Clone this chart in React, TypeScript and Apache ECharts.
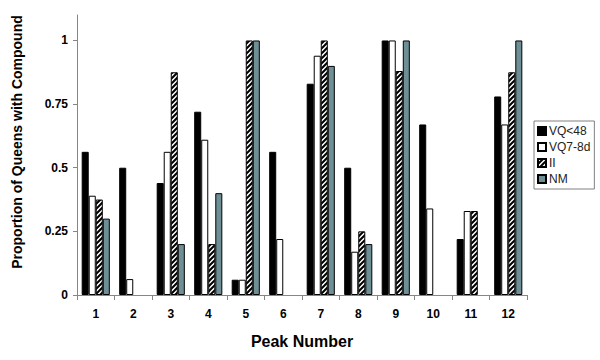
import React, { useEffect, useRef } from "react";
import * as echarts from "echarts";

const categories = ["1", "2", "3", "4", "5", "6", "7", "8", "9", "10", "11", "12"];
const seriesNames = ["VQ<48", "VQ7-8d", "II", "NM"];
const vq48 = [0.5625, 0.5, 0.44, 0.72, 0.06, 0.5625, 0.83, 0.5, 1, 0.67, 0.22, 0.78];
const vq78 = [0.39, 0.0625, 0.5625, 0.61, 0.06, 0.22, 0.94, 0.17, 1, 0.34, 0.33, 0.67];
const ii = [0.375, 0, 0.875, 0.2, 1, 0, 1, 0.25, 0.88, 0, 0.33, 0.875];
const nm = [0.3, 0, 0.2, 0.4, 1, 0, 0.9, 0.2, 1, 0, 0, 1];
const yTicks = [0, 0.25, 0.5, 0.75, 1];

const FONT = '"Liberation Sans", Arial, sans-serif';

function makeHatch(): HTMLCanvasElement {
  const c = document.createElement("canvas");
  const s = 5;
  c.width = s;
  c.height = s;
  const ctx = c.getContext("2d")!;
  ctx.fillStyle = "#fff";
  ctx.fillRect(0, 0, s, s);
  ctx.strokeStyle = "#000";
  ctx.lineWidth = 2;
  ctx.lineCap = "square";
  for (const o of [-s, 0, s]) {
    ctx.beginPath();
    ctx.moveTo(o - 1, s + 1);
    ctx.lineTo(o + s + 1, -1);
    ctx.stroke();
  }
  return c;
}

export default function App() {
  const ref = useRef<HTMLDivElement>(null);
  useEffect(() => {
    if (!ref.current) return;
    const chart = echarts.init(ref.current, undefined, { renderer: "svg" });
    const border = { borderColor: "#000", borderWidth: 1 };
    const hatchFill = { image: makeHatch(), repeat: "repeat" };
    const datasets = [vq48, vq78, ii, nm];
    const styles = [
      { color: "#000", ...border },
      { color: "#fff", ...border },
      { color: hatchFill, ...border },
      { color: "#6f8f97", ...border },
    ];
    chart.setOption({
      animation: false,
      backgroundColor: "#fff",
      textStyle: { fontFamily: FONT },
      grid: { left: 77, right: 73, top: 15, bottom: 65 },
      legend: {
        orient: "vertical",
        left: 534,
        top: 121,
        itemWidth: 8,
        itemHeight: 8,
        itemGap: 4,
        borderColor: "#808080",
        borderWidth: 1,
        borderRadius: 0,
        padding: [4, 4, 4, 3],
        icon: "rect",
        textStyle: { fontSize: 12, color: "#222", fontFamily: FONT, padding: [0, 0, 0, -2] },
        data: seriesNames,
      },
      graphic: [
        {
          type: "text",
          x: 17,
          y: 142,
          rotation: Math.PI / 2,
          style: {
            text: "Proportion of Queens with Compound",
            font: `bold 14px ${FONT}`,
            fill: "#000",
            align: "center",
            verticalAlign: "middle",
          },
        },
      ],
      xAxis: {
        type: "category",
        data: categories,
        name: "Peak Number",
        nameLocation: "middle",
        nameGap: 38,
        nameTextStyle: { fontSize: 16, fontWeight: "bold", color: "#000", fontFamily: FONT },
        axisLine: { lineStyle: { color: "#868686", width: 1 } },
        axisTick: { show: true, length: 5, lineStyle: { color: "#868686" } },
        axisLabel: { fontSize: 12, fontWeight: "bold", color: "#000", margin: 13, fontFamily: FONT },
      },
      yAxis: {
        type: "value",
        min: 0,
        max: 1.1,
        interval: 0.25,
        splitLine: { show: false },
        axisLine: { show: true, lineStyle: { color: "#868686", width: 1 } },
        axisTick: { show: true, length: 4, lineStyle: { color: "#868686" }, customValues: yTicks },
        axisLabel: {
          fontSize: 12,
          fontWeight: "bold",
          color: "#000",
          margin: 9,
          fontFamily: FONT,
          customValues: yTicks,
        },
      },
      series: seriesNames.map((name, i) => ({
        name,
        type: "bar",
        data: datasets[i].map((v) => (v === 0 ? null : v)),
        barGap: "0%",
        barCategoryGap: "25%",
        itemStyle: styles[i],
      })),
    });
    return () => chart.dispose();
  }, []);
  return (
    <div
      ref={ref}
      style={{ position: "fixed", left: 0, top: 0, width: 600, height: 360, background: "#fff" }}
    />
  );
}
